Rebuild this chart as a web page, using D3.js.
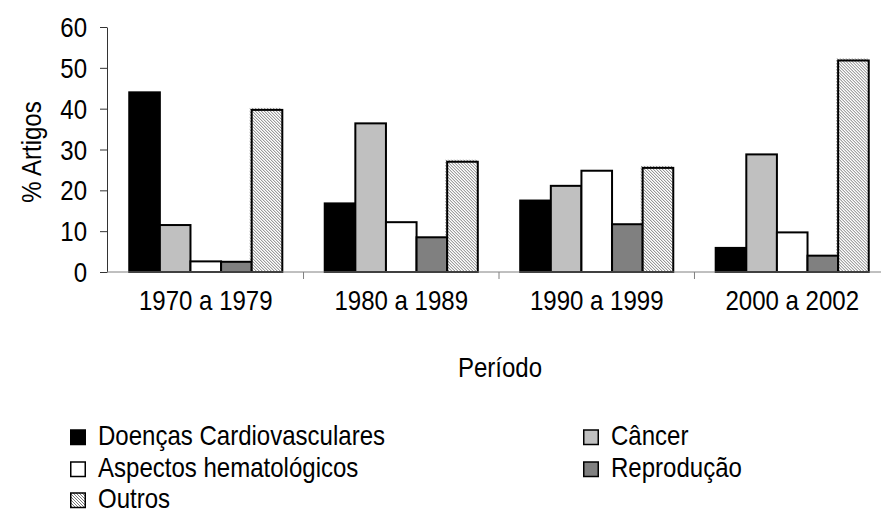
<!DOCTYPE html>
<html>
<head>
<meta charset="utf-8">
<script src="https://cdn.jsdelivr.net/npm/d3@7"></script>
<style>
  body { margin: 0; background: #fff; }
  svg { display: block; font-family: "Liberation Sans", Arial, sans-serif; }
</style>
</head>
<body>
<div id="chart"></div>
<script>
// data
const periodos = ["1970 a 1979", "1980 a 1989", "1990 a 1999", "2000 a 2002"];
const categorias = ["Doenças Cardiovasculares", "Câncer", "Aspectos hematológicos", "Reprodução", "Outros"];
const cardio = [44, 16.8, 17.5, 5.9];
const cancer = [11.5, 36.4, 21.1, 28.8];
const hemato = [2.6, 12.2, 24.8, 9.7];
const reprod = [2.5, 8.5, 11.7, 4.0];
const outros = [39.7, 27.0, 25.5, 51.8];
const yTicks = [0, 10, 20, 30, 40, 50, 60];

const series = [cardio, cancer, hemato, reprod, outros];
const fills = ["#000000", "#c0c0c0", "#ffffff", "#808080", "url(#hatch)"];

const width = 881, height = 515;
const fontSize = 27, squeeze = 0.89;   // text in the original is a bit condensed

const svg = d3.select("#chart").append("svg")
  .attr("width", width)
  .attr("height", height);

// hatch pattern for "Outros"
const defs = svg.append("defs");
const pat = defs.append("pattern")
  .attr("id", "hatch")
  .attr("patternUnits", "userSpaceOnUse")
  .attr("width", 3).attr("height", 3);
pat.append("rect").attr("width", 3).attr("height", 3).attr("fill", "#ffffff");
pat.append("path")
  .attr("d", "M0,0 L3,3 M-1,2 L1,4 M2,-1 L4,1")
  .attr("stroke", "#7a7a7a")
  .attr("stroke-width", 1);

// helper: condensed text at a point
function label(g, x, y, txt, anchor, rot) {
  return g.append("text")
    .attr("transform", `translate(${x},${y})` + (rot ? ` rotate(${rot})` : "") + ` scale(${squeeze},1)`)
    .attr("text-anchor", anchor || "start")
    .attr("font-size", fontSize)
    .attr("fill", "#000")
    .text(txt);
}

// scales
const plotLeft = 107, plotTop = 27, plotBottom = 272;
const x0 = d3.scaleBand()
  .domain(periodos)
  .range([108, 108 + 4 * 195.5])
  .paddingInner(0.217)
  .paddingOuter(0.1087);
const x1 = d3.scaleBand()
  .domain(d3.range(categorias.length))
  .range([0, x0.bandwidth()]);
const y = d3.scaleLinear().domain([0, 60]).range([plotBottom, plotTop]);

// bars
const groups = svg.append("g").selectAll("g")
  .data(periodos)
  .join("g")
  .attr("transform", d => `translate(${x0(d)},0)`);

// the hatched bars show a thin patterned edge outside the black border
groups.selectAll("rect.hatchedge")
  .data((p, i) => [{ s: 4, v: outros[i] }])
  .join("rect")
  .attr("class", "hatchedge")
  .attr("x", d => x1(d.s) - 2)
  .attr("y", d => y(d.v) - 2)
  .attr("width", x1.bandwidth() + 1)
  .attr("height", d => plotBottom - y(d.v) + 2)
  .attr("fill", "url(#hatch)");

groups.selectAll("rect.bar")
  .data((p, i) => series.map((s, k) => ({ s: k, v: s[i] })))
  .join("rect")
  .attr("class", "bar")
  .attr("x", d => x1(d.s))
  .attr("y", d => y(d.v))
  .attr("width", x1.bandwidth())
  .attr("height", d => plotBottom - y(d.v))
  .attr("fill", d => fills[d.s])
  .attr("stroke", "#000")
  .attr("stroke-width", 2);

// y axis
const yAxis = svg.append("g")
  .attr("transform", `translate(${plotLeft},0)`)
  .call(d3.axisLeft(y).tickValues(yTicks).tickSize(7).tickSizeOuter(0));
yAxis.select(".domain").attr("stroke", "#333");
yAxis.selectAll(".tick line").attr("stroke", "#333");
yAxis.selectAll(".tick text").remove();
yAxis.selectAll(".tick").each(function (d) {
  label(d3.select(this), -20, 9.5, d, "end");
});

// x axis
const xAxisG = svg.append("g");
xAxisG.append("line")
  .attr("x1", plotLeft).attr("x2", width)
  .attr("y1", plotBottom).attr("y2", plotBottom)
  .attr("stroke", "#808080");
const bounds = periodos.slice(1).map(p => x0(p) - x0.step() * x0.paddingInner() / 2);
xAxisG.selectAll("line.tick")
  .data(bounds)
  .join("line")
  .attr("class", "tick")
  .attr("x1", d => d).attr("x2", d => d)
  .attr("y1", plotBottom).attr("y2", plotBottom + 7)
  .attr("stroke", "#808080");
periodos.forEach(p => label(xAxisG, x0(p) + x0.bandwidth() / 2, 310, p, "middle"));

// axis titles
label(svg, 500, 377, "Período", "middle");
label(svg, 41, 152, "% Artigos", "middle", -90);

// legend
const legendPos = [[70, 445], [583, 445], [70, 477], [583, 477], [70, 508]];
const legend = svg.append("g").selectAll("g")
  .data(categorias)
  .join("g")
  .attr("transform", (d, i) => `translate(${legendPos[i][0]},${legendPos[i][1]})`);
legend.append("rect")
  .attr("x", 0.75).attr("y", -15)
  .attr("width", 14.5).attr("height", 14.5)
  .attr("fill", (d, i) => fills[i])
  .attr("stroke", "#000")
  .attr("stroke-width", 1.5);
legend.each(function (d) {
  label(d3.select(this), 28, 0, d, "start");
});
</script>
</body>
</html>
